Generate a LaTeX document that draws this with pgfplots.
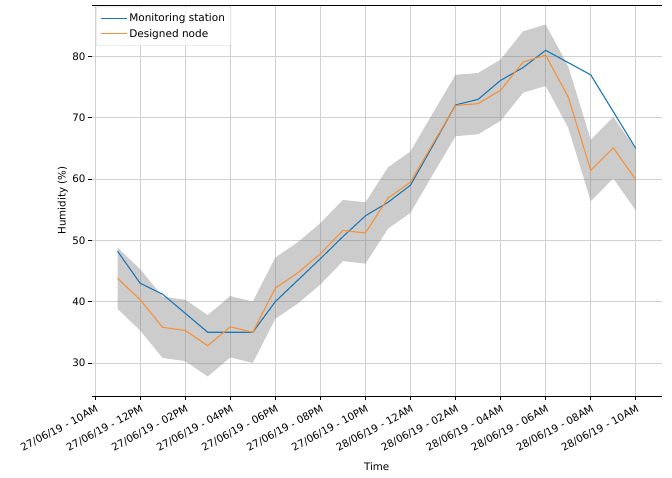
\documentclass[border=0pt]{standalone}
\usepackage{pgfplots}
\pgfplotsset{compat=1.18}
\usepackage{pgfplotstable}
\usepgfplotslibrary{fillbetween}
\usepackage{fontspec}
\setmainfont{DejaVu Sans}
\definecolor{mblue}{HTML}{1F77B4}
\definecolor{morange}{HTML}{F5913A}
\definecolor{gridc}{HTML}{D0D0D0}
\pgfplotstableread{
h blue orange up lo
1 48.2 43.8 48.8 38.8
2 43.0 40.3 45.3 35.3
3 41.2 35.8 40.8 30.8
4 38.1 35.3 40.3 30.3
5 35.0 32.8 37.8 27.8
6 35.0 35.9 40.9 30.9
7 35.0 35.0 40.0 30.0
8 40.0 42.2 47.2 37.2
9 43.5 44.7 49.7 39.7
10 47.0 47.8 52.8 42.8
11 50.6 51.6 56.6 46.6
12 54.0 51.2 56.2 46.2
13 56.2 56.9 61.9 51.9
14 59.0 59.5 64.5 54.5
15 65.5 65.8 70.8 60.8
16 72.1 72.0 77.0 67.0
17 73.0 72.3 77.3 67.3
18 76.1 74.5 79.5 69.5
19 78.2 79.1 84.1 74.1
20 81.0 80.2 85.2 75.2
21 79.0 73.4 78.4 68.4
22 77.0 61.4 66.4 56.4
23 71.0 65.1 70.1 60.1
24 65.0 59.9 64.9 54.9
}\datatab
\begin{document}
\begin{tikzpicture}
\begin{axis}[
  scale only axis,
  width=570pt, height=391pt,
  xmin=-0.15, xmax=25.15,
  ymin=24.6, ymax=88.4,
  xtick={0,2,...,24},
  xticklabels={27/06/19 - 10AM, 27/06/19 - 12PM, 27/06/19 - 02PM, 27/06/19 - 04PM, 27/06/19 - 06PM, 27/06/19 - 08PM, 27/06/19 - 10PM, 28/06/19 - 12AM, 28/06/19 - 02AM, 28/06/19 - 04AM, 28/06/19 - 06AM, 28/06/19 - 08AM, 28/06/19 - 10AM},
  ytick={30,40,50,60,70,80},
  grid=major,
  major grid style={gridc, line width=0.8pt},
  separate axis lines,
  x axis line style={black, line width=0.9pt},
  y axis line style={draw=none},
  xtick pos=bottom, ytick pos=left,
  tick align=outside,
  major tick length=4pt,
  tick style={black, line width=0.7pt},
  /pgf/number format/assume math mode=true,
  tick label style={font=\fontsize{10.3}{12}\selectfont},
  xticklabel style={rotate=28, anchor=north east, inner sep=1pt, yshift=-3pt, xshift=-1pt},
  yticklabel style={inner sep=2pt},
  xlabel={Time},
  ylabel={Humidity (\%)},
  label style={font=\fontsize{10.3}{12}\selectfont},
  xlabel style={yshift=-5pt},
  ylabel style={yshift=-1pt},
  legend style={at={(0,1)}, anchor=north west, xshift=4.3pt, yshift=-1.7pt,
    draw=gridc, rounded corners=2pt, fill=white, fill opacity=0.8, text opacity=1,
    font=\fontsize{10.5}{12}\selectfont, row sep=1.7pt, inner xsep=4pt, inner ysep=5pt},
  legend cell align=left,
  legend image code/.code={\draw[#1] (0pt,0pt) -- (21.7pt,0pt); \path (0pt,0pt) -- (26pt,0pt);},
]
\coordinate (bl) at (rel axis cs:0,0);
\addplot[name path=up, draw=none, forget plot] table[x=h, y=up] {\datatab};
\addplot[name path=lo, draw=none, forget plot] table[x=h, y=lo] {\datatab};
\addplot[fill=gray, fill opacity=0.4, draw=none, forget plot] fill between[of=up and lo];
\addplot[mblue, line width=1.1pt] table[x=h, y=blue] {\datatab};
\addlegendentry{Monitoring station}
\addplot[morange, line width=1.1pt] table[x=h, y=orange] {\datatab};
\addlegendentry{Designed node}
\end{axis}
\pgfresetboundingbox
\path (bl) ++(-91.7pt,-82pt) rectangle ++(672pt,478pt);
\end{tikzpicture}
\end{document}
